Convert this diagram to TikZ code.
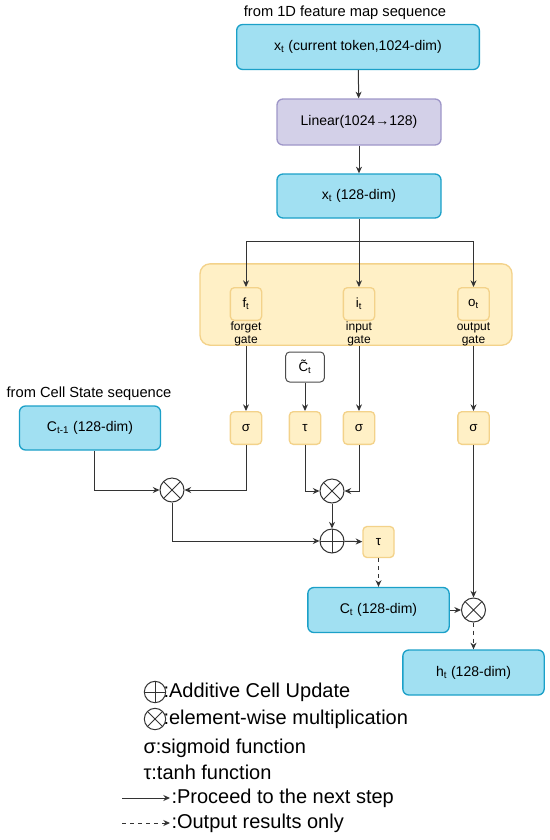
\documentclass[tikz,border=0pt]{standalone}
\usepackage{fontspec}
\setmainfont{Liberation Sans}
\usetikzlibrary{positioning, arrows.meta}

\definecolor{cellfill}{HTML}{A1E0F2}
\definecolor{celldraw}{HTML}{1BA0C8}
\definecolor{linfill}{HTML}{D3D0E8}
\definecolor{lindraw}{HTML}{9E96C8}
\definecolor{gatefill}{HTML}{FFF0C6}
\definecolor{gatedraw}{HTML}{F3D28A}
\definecolor{wiregray}{HTML}{333333}

\tikzset{
  databox/.style={draw=celldraw, fill=cellfill, rounded corners=4.5pt, line width=1pt,
    minimum width=106pt, minimum height=33.75pt, font=\fontsize{10.5}{12}\selectfont},
  linbox/.style={draw=lindraw, fill=linfill, rounded corners=4.5pt, line width=1pt,
    minimum width=123pt, minimum height=34.5pt, font=\fontsize{10.5}{12}\selectfont},
  gatebox/.style={draw=gatedraw, fill=gatefill, rounded corners=3pt, line width=1pt,
    minimum width=23.5pt, minimum height=24.5pt, inner sep=0pt, font=\fontsize{10}{12}\selectfont},
  gatelab/.style={align=center, inner sep=0pt, font=\fontsize{9}{9.75}\selectfont},
  mulop/.style={circle, draw=wiregray, line width=0.75pt, minimum size=18pt, inner sep=0pt,
    path picture={\draw[wiregray] (path picture bounding box.north west) -- (path picture bounding box.south east)
      (path picture bounding box.north east) -- (path picture bounding box.south west);}},
  addop/.style={circle, draw=wiregray, line width=0.75pt, minimum size=18pt, inner sep=0pt,
    path picture={\draw[wiregray] (path picture bounding box.north) -- (path picture bounding box.south)
      (path picture bounding box.east) -- (path picture bounding box.west);}},
  legtext/.style={anchor=west, inner sep=0pt, font=\fontsize{15}{18}\selectfont},
}

\begin{document}
\begin{tikzpicture}[>={Stealth[length=5pt,width=4.5pt]}, x=0.75pt, y=-0.75pt, line width=0.75pt, draw=wiregray]
\useasboundingbox (0,0) rectangle (550,840);

% input side
\node[font=\fontsize{11}{13}\selectfont] (intitle) at (345,13) {from 1D feature map sequence};
\node[databox, minimum width=182pt] (xt) at (358,47) {x\textsubscript{t} (current token,1024-dim)};
\node[linbox] (lin) at (359,122) {Linear(1024→128)};
\node[databox, minimum width=123pt, minimum height=33pt] (xs) at (359,196) {x\textsubscript{t} (128-dim)};
\coordinate (split) at (359,241);

\draw[->] (xt) -- (lin);
\draw[->] (lin) -- (xs);

% gates
\node[draw=gatedraw, fill=gatefill, rounded corners=7.5pt, line width=1pt,
  minimum width=234pt, minimum height=61pt] (gates) at (356,304.5) {};
\node[gatebox] (ft) at (246,304) {f\textsubscript{t}};
\node[gatebox] (it) at (359,304) {i\textsubscript{t}};
\node[gatebox] (ot) at (473.5,304) {o\textsubscript{t}};
\node[gatelab] (flab) at (246,334) {forget\\gate};
\node[gatelab] (ilab) at (359,334) {input\\gate};
\node[gatelab] (olab) at (473.5,334) {output\\gate};

\draw (xs) -- (split);
\draw[->] (split) -| (ft);
\draw[->] (split) -- (it);
\draw[->] (split) -| (ot);

% activations
\node[draw=black!70, fill=white, rounded corners=3pt, line width=0.75pt, minimum width=29pt,
  minimum height=22.5pt, inner sep=0pt, font=\fontsize{10}{12}\selectfont] (ctil) at (305,367) {\~{C}\textsubscript{t}};
\node[gatebox] (sf) at (246,428) {σ};
\node[gatebox] (tc) at (305,428) {τ};
\node[gatebox] (si) at (359,428) {σ};
\node[gatebox] (so) at (473.5,428) {σ};

\draw[->] (ft |- gates.south) -- (sf);
\draw[->] (ctil) -- (tc);
\draw[->] (it |- gates.south) -- (si);
\draw[->] (ot |- gates.south) -- (so);

% cell state
\node[font=\fontsize{11}{13}\selectfont] (cstitle) at (89,394) {from Cell State sequence};
\node[databox, minimum width=105.75pt, minimum height=33pt] (cprev) at (90,428) {C\textsubscript{t-1} (128-dim)};
\node[mulop] (m1) at (172,490) {};
\node[mulop] (m2) at (332,491) {};
\node[addop] (add) at (332,541) {};
\node[gatebox, minimum width=23.25pt, minimum height=23.25pt] (tcell) at (378.5,542) {τ};
\node[databox] (ct) at (378.5,610) {C\textsubscript{t} (128-dim)};
\node[mulop] (m3) at (473.5,610) {};
\node[databox] (ht) at (473.5,672.5) {h\textsubscript{t} (128-dim)};

\draw[->] (cprev.south -| 94,0) |- (m1);
\draw[->] (sf) |- (m1);
\draw[->] (tc) |- (m2);
\draw[->] (si) |- (m2);
\draw[->] (m2) -- (add);
\draw[->] (m1) |- (add);
\draw[->] (add) -- (tcell);
\draw[->, dashed] (tcell) -- (ct);
\draw[->] (so) -- (m3);
\draw[->] (ct) -- (m3);
\draw[->, dashed] (m3) -- (ht);

% legend
\node[addop, minimum size=16pt] (lgadd) at (155,692) {};
\node[legtext] (lgaddt) at (163,692) {:Additive Cell Update};
\node[mulop, minimum size=16pt] (lgmul) at (155,719) {};
\node[legtext] (lgmult) at (163,719) {:element-wise multiplication};
\node[legtext] (lgsig) at (143,748) {σ:sigmoid function};
\node[legtext] (lgtanh) at (143,772) {τ:tanh function};
\coordinate (lgs1) at (122,798);
\coordinate (lgs2) at (170,798);
\coordinate (lgd1) at (122,823);
\coordinate (lgd2) at (170,823);
\draw[->] (lgs1) -- (lgs2);
\draw[->, dashed] (lgd1) -- (lgd2);
\node[legtext] (lgst) at (171,798) {:Proceed to the next step};
\node[legtext] (lgdt) at (171,823) {:Output results only};
\end{tikzpicture}
\end{document}
